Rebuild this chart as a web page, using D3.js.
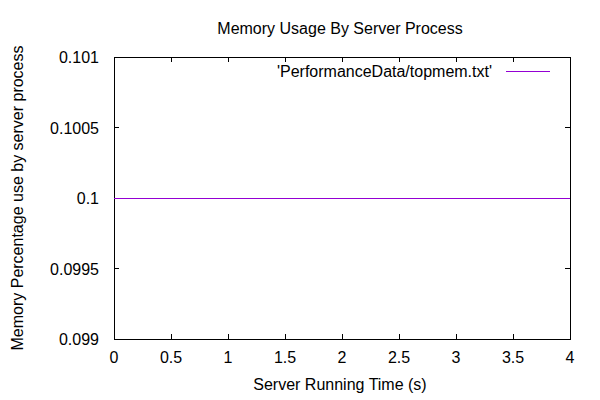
<!DOCTYPE html>
<html><head><meta charset="utf-8">
<script src="https://cdn.jsdelivr.net/npm/d3@7"></script>
<style>body{margin:0;background:#fff}text{font-family:"Liberation Sans",Arial,sans-serif;font-size:16px;fill:#000}line,rect,path{shape-rendering:crispEdges}</style>
</head><body><svg id="c" width="600" height="400"></svg>
<script>
const times = [0, 1, 2, 3, 4];
const memory = [0.1, 0.1, 0.1, 0.1, 0.1];
const xTicks = [0, 0.5, 1, 1.5, 2, 2.5, 3, 3.5, 4];
const yTicks = [0.099, 0.0995, 0.1, 0.1005, 0.101];
const title = "Memory Usage By Server Process";
const xLabel = "Server Running Time (s)";
const yLabel = "Memory Percentage use by server process";
const seriesName = "'PerformanceData/topmem.txt'";

const svg = d3.select("#c");
const L = 114, R = 570, T = 57, B = 339, tl = 5;
const x = d3.scaleLinear().domain([0, 4]).range([L, R]);
const y = d3.scaleLinear().domain([0.099, 0.101]).range([B, T]);
const fmt = d => String(+d.toPrecision(6));

const g = svg.append("g");
xTicks.forEach(t => {
  [[B, B - tl], [T, T + tl]].forEach(([a, b]) =>
    g.append("line").attr("x1", x(t)).attr("x2", x(t)).attr("y1", a).attr("y2", b).attr("stroke", "#000"));
  g.append("text").attr("x", x(t)).attr("y", B + 24).attr("text-anchor", "middle").text(fmt(t));
});
yTicks.forEach(t => {
  [[L, L + tl], [R, R - tl]].forEach(([a, b]) =>
    g.append("line").attr("x1", a).attr("x2", b).attr("y1", y(t)).attr("y2", y(t)).attr("stroke", "#000"));
  g.append("text").attr("x", L - 15).attr("y", y(t) + 6).attr("text-anchor", "end").text(fmt(t));
});
g.append("rect").attr("x", L).attr("y", T).attr("width", R - L).attr("height", B - T)
  .attr("fill", "none").attr("stroke", "#000");

const line = d3.line().x((d, i) => x(times[i])).y(d => y(d));
svg.append("path").datum(memory).attr("d", line).attr("fill", "none").attr("stroke", "#9400d3").attr("stroke-width", 1);

svg.append("text").attr("x", 492).attr("y", 77).attr("text-anchor", "end").text(seriesName);
svg.append("line").attr("x1", 506).attr("x2", 550).attr("y1", 71).attr("y2", 71).attr("stroke", "#9400d3");

svg.append("text").attr("x", 340).attr("y", 34).attr("text-anchor", "middle").text(title);
svg.append("text").attr("x", 340).attr("y", 390).attr("text-anchor", "middle").text(xLabel);
svg.append("text").attr("transform", `translate(23,${(T + B) / 2}) rotate(-90)`).attr("text-anchor", "middle").text(yLabel);
</script></body></html>
